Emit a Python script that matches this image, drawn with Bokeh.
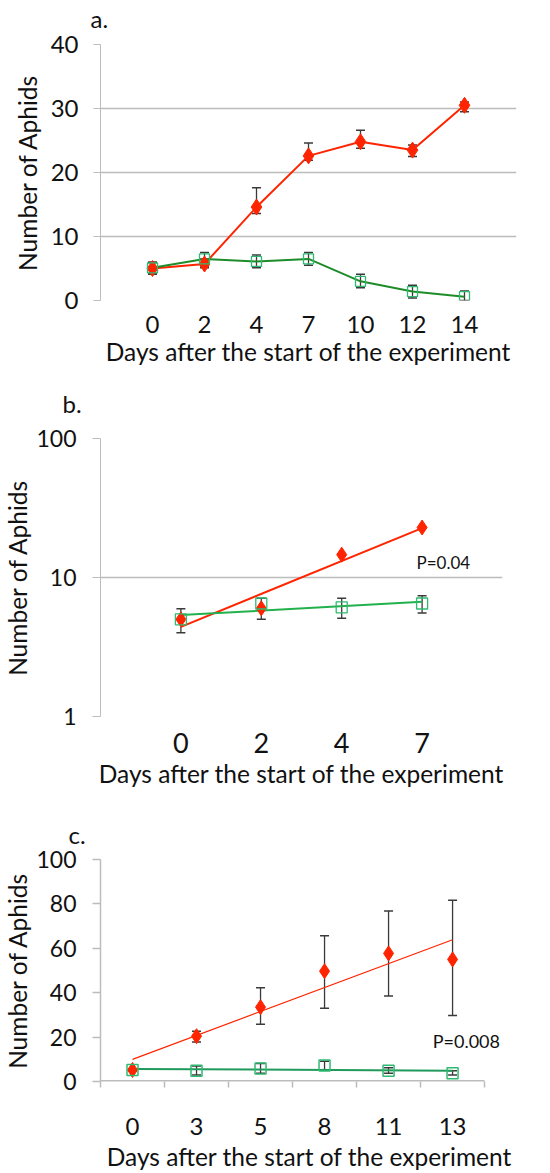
import numpy as np
from bokeh.plotting import figure
from bokeh.models import (ColumnDataSource, Whisker, TeeHead, FixedTicker, Label,
                          NumeralTickFormatter, Range1d, Title)
from bokeh.embed import file_html
from bokeh.resources import INLINE

# ---------------- data ----------------
days_a = ["0", "2", "4", "7", "10", "12", "14"]
red_a = [5.0, 5.7, 14.6, 22.6, 24.8, 23.5, 30.5]
red_a_up = [6.0, 6.5, 17.6, 24.6, 26.6, 24.3, 31.0]
red_a_lo = [4.2, 5.1, 13.6, 21.9, 23.8, 22.5, 29.5]
green_a = [5.1, 6.5, 6.1, 6.5, 3.0, 1.4, 0.6]
green_a_up = [5.9, 7.5, 7.1, 7.5, 4.1, 2.4, 1.5]
green_a_lo = [4.1, 5.4, 5.1, 5.5, 2.0, 0.4, 0.0]

days_b = ["0", "2", "4", "7"]
red_b = [5.0, 6.0, 14.6, 22.9]
green_b = [5.0, 6.5, 6.1, 6.5]
green_b_up = [5.95, 7.1, 7.1, 7.4]
green_b_lo = [4.0, 5.0, 5.1, 5.55]
p_b = "P=0.04"

days_c = ["0", "3", "5", "8", "11", "13"]
red_c = [5.2, 20.4, 33.5, 49.7, 57.7, 55.0]
red_c_up = [5.6, 22.6, 42.2, 65.6, 76.8, 81.6]
red_c_lo = [4.8, 17.8, 25.8, 33.0, 38.5, 29.7]
green_c = [5.2, 4.8, 5.8, 7.2, 4.8, 3.7]
green_c_up = [5.6, 7.0, 8.1, 9.1, 6.2, 4.8]
green_c_lo = [4.8, 2.9, 3.7, 5.2, 3.7, 2.9]
p_c = "P=0.008"

# ---------------- styles ----------------
FONT = "Lato"
RED = "#ff2400"
GREEN_LINE_A = "#1e8c2a"
GREEN_MARK = "#2fba72"
GREEN_LINE_B = "#22b14c"
GREEN_LINE_C = "#1f9a5a"
GRID = "#bcbcbc"
ERR = "#3a3a3a"
TXT = "#111111"


def base_fig(height, bl, br, bt, bb, x_range, y_range, y_type="linear", title="", gap=0):
    p = figure(width=550, height=height, output_backend="svg", toolbar_location=None,
               x_range=x_range, y_range=y_range, y_axis_type=y_type,
               min_border_left=bl, min_border_right=br, min_border_top=bt,
               min_border_bottom=bb, title=title)
    p.outline_line_color = None
    p.background_fill_color = "white"
    p.border_fill_color = "white"
    p.title.text_font = FONT
    p.title.text_font_size = "24px"
    p.title.text_font_style = "normal"
    p.title.text_color = TXT
    p.title.align = "left"
    p.title.standoff = 0
    # invisible spacer between the panel letter and the plot area
    p.add_layout(Title(text=" ", text_font_size="1px", standoff=gap), "above")
    for ax in (p.xaxis[0], p.yaxis[0]):
        ax.major_label_text_font = FONT
        ax.axis_label_text_font = FONT
        ax.axis_label_text_font_style = "normal"
        ax.major_label_text_color = TXT
        ax.axis_label_text_color = TXT
        ax.minor_tick_line_color = None
        ax.axis_label_text_font_size = "24.5px"
    p.xaxis.axis_label = "Days after the start of the experiment"
    p.yaxis.axis_label = "Number of Aphids"
    return p


def whisk(p, xs, lo, up):
    src = ColumnDataSource(dict(x=xs, lo=lo, up=up))
    w = Whisker(source=src, base="x", lower="lo", upper="up",
                line_color=ERR, line_width=1.3)
    w.upper_head = TeeHead(size=9, line_color=ERR, line_width=1.5)
    w.lower_head = TeeHead(size=9, line_color=ERR, line_width=1.5)
    p.add_layout(w)


# ---------------- panel a ----------------
xa = list(range(len(days_a)))
pa = base_fig(372, 100, 34, 44, 72, Range1d(-1, len(days_a)), Range1d(0, 40), title="a.", gap=9)
pa.title.offset = -10
pa.xaxis.ticker = FixedTicker(ticks=xa)
pa.xaxis.major_label_overrides = {i: d for i, d in enumerate(days_a)}
pa.xaxis.axis_line_color = None
pa.xaxis.major_tick_line_color = None
pa.xaxis.major_label_text_font_size = "24px"
pa.xaxis.major_label_standoff = 9
pa.xaxis.axis_label_standoff = 1
pa.xgrid.visible = False
pa.yaxis.ticker = FixedTicker(ticks=[0, 10, 20, 30, 40])
pa.yaxis.axis_line_color = GRID
pa.yaxis.major_tick_line_color = GRID
pa.yaxis.major_tick_out = 7
pa.yaxis.major_tick_in = 0
pa.yaxis.major_label_text_font_size = "24px"
pa.yaxis.major_label_standoff = 15
pa.yaxis.axis_label_standoff = 6
pa.ygrid.ticker = FixedTicker(ticks=[0, 10, 20, 30, 40])
pa.ygrid.grid_line_color = GRID
pa.ygrid.grid_line_width = 1.5

pa.line(xa, red_a, line_color=RED, line_width=2)
pa.line(xa, green_a, line_color=GREEN_LINE_A, line_width=2)
pa.scatter(xa, red_a, marker="diamond", size=16, fill_color=RED, line_color=RED)
pa.scatter(xa, green_a, marker="square", size=10, fill_color=None, line_color=GREEN_MARK, line_width=1.3)
whisk(pa, xa, red_a_lo, red_a_up)
whisk(pa, xa, green_a_lo, green_a_up)

# ---------------- panel b ----------------
xb = list(range(len(days_b)))
pb = base_fig(428, 98, 48, 66, 84, Range1d(-1, len(days_b)), Range1d(1, 100), y_type="log",
              title="b.", gap=18)
pb.title.offset = -38
pb.xaxis.ticker = FixedTicker(ticks=xb)
pb.xaxis.major_label_overrides = {i: d for i, d in enumerate(days_b)}
pb.xaxis.axis_line_color = None
pb.xaxis.major_tick_line_color = None
pb.xaxis.major_label_text_font_size = "27px"
pb.xaxis.major_label_standoff = 10
pb.xaxis.axis_label_standoff = 3
pb.xgrid.visible = False
pb.yaxis.ticker = FixedTicker(ticks=[1, 10, 100])
pb.yaxis.formatter = NumeralTickFormatter(format="0")
pb.yaxis.axis_line_color = GRID
pb.yaxis.major_tick_line_color = GRID
pb.yaxis.major_tick_out = 8
pb.yaxis.major_tick_in = 0
pb.yaxis.major_label_text_font_size = "23px"
pb.yaxis.major_label_standoff = 16
pb.yaxis.axis_label_standoff = 1
pb.ygrid.ticker = FixedTicker(ticks=[1, 10, 100])
pb.ygrid.grid_line_color = GRID
pb.ygrid.grid_line_width = 1.5

# exponential trend lines (least squares on log values)
xb_arr = np.array(xb, dtype=float)
for vals, col in ((red_b, RED), (green_b, GREEN_LINE_B)):
    k, c0 = np.polyfit(xb_arr, np.log10(vals), 1)
    pb.line([xb_arr[0], xb_arr[-1]], [10 ** (c0 + k * xb_arr[0]), 10 ** (c0 + k * xb_arr[-1])],
            line_color=col, line_width=2)
pb.scatter(xb, red_b, marker="diamond", size=15, fill_color=RED, line_color=RED)
pb.scatter(xb, green_b, marker="square", size=11, fill_color=None, line_color=GREEN_MARK, line_width=1.3)
whisk(pb, xb, green_b_lo, green_b_up)
pb.add_layout(Label(x=2.93, y=12.8, text=p_b, text_font=FONT, text_font_size="17px",
                    text_color=TXT, text_baseline="middle"))

# ---------------- panel c ----------------
xc = list(range(len(days_c)))
pc = base_fig(373, 98, 32, 59, 84, Range1d(-0.5, len(days_c) + 0.03), Range1d(0, 100),
              title="c.", gap=8)
pc.title.offset = -32
pc.xaxis.ticker = FixedTicker(ticks=xc, minor_ticks=[i - 0.5 for i in range(len(days_c) + 1)])
pc.xaxis.major_label_overrides = {i: d for i, d in enumerate(days_c)}
pc.xaxis.axis_line_color = None
pc.xaxis.major_tick_line_color = None
pc.xaxis.minor_tick_line_color = GRID
pc.xaxis.minor_tick_line_width = 1.5
pc.xaxis.minor_tick_out = 6
pc.xaxis.minor_tick_in = 0
pc.xaxis.major_label_text_font_size = "24px"
pc.xaxis.major_label_standoff = 30
pc.xaxis.axis_label_standoff = 4
pc.xgrid.visible = False
pc.ygrid.visible = False
pc.yaxis.ticker = FixedTicker(ticks=[0, 20, 40, 60, 80, 100])
pc.yaxis.axis_line_color = GRID
pc.yaxis.axis_line_width = 1.5
pc.yaxis.major_tick_line_color = GRID
pc.yaxis.major_tick_line_width = 1.5
pc.yaxis.major_tick_out = 8
pc.yaxis.major_tick_in = 0
pc.yaxis.major_label_text_font_size = "23px"
pc.yaxis.major_label_standoff = 16
pc.yaxis.axis_label_standoff = 1
# x axis line only across the category span
pc.segment(x0=[-0.5], y0=[0], x1=[len(days_c) - 0.5], y1=[0], line_color=GRID, line_width=3)

xc_arr = np.array(xc, dtype=float)
k, c0 = np.polyfit(xc_arr, np.array(red_c), 1)
pc.line([xc_arr[0], xc_arr[-1]], [c0 + k * xc_arr[0], c0 + k * xc_arr[-1]], line_color=RED, line_width=1.2)
k, c0 = np.polyfit(xc_arr, np.array(green_c), 1)
pc.line([xc_arr[0], xc_arr[-1]], [c0 + k * xc_arr[0], c0 + k * xc_arr[-1]], line_color=GREEN_LINE_C, line_width=2)
pc.scatter(xc, red_c, marker="diamond", size=15, fill_color=RED, line_color=RED)
pc.scatter(xc, green_c, marker="square", size=11, fill_color=None, line_color=GREEN_MARK, line_width=1.5)
whisk(pc, xc, red_c_lo, red_c_up)
whisk(pc, xc, green_c_lo, green_c_up)
pc.add_layout(Label(x=4.69, y=18.4, text=p_c, text_font=FONT, text_font_size="18px",
                    text_color=TXT, text_baseline="middle"))

open("out.html", "w").write(file_html([pa, pb, pc], INLINE))
